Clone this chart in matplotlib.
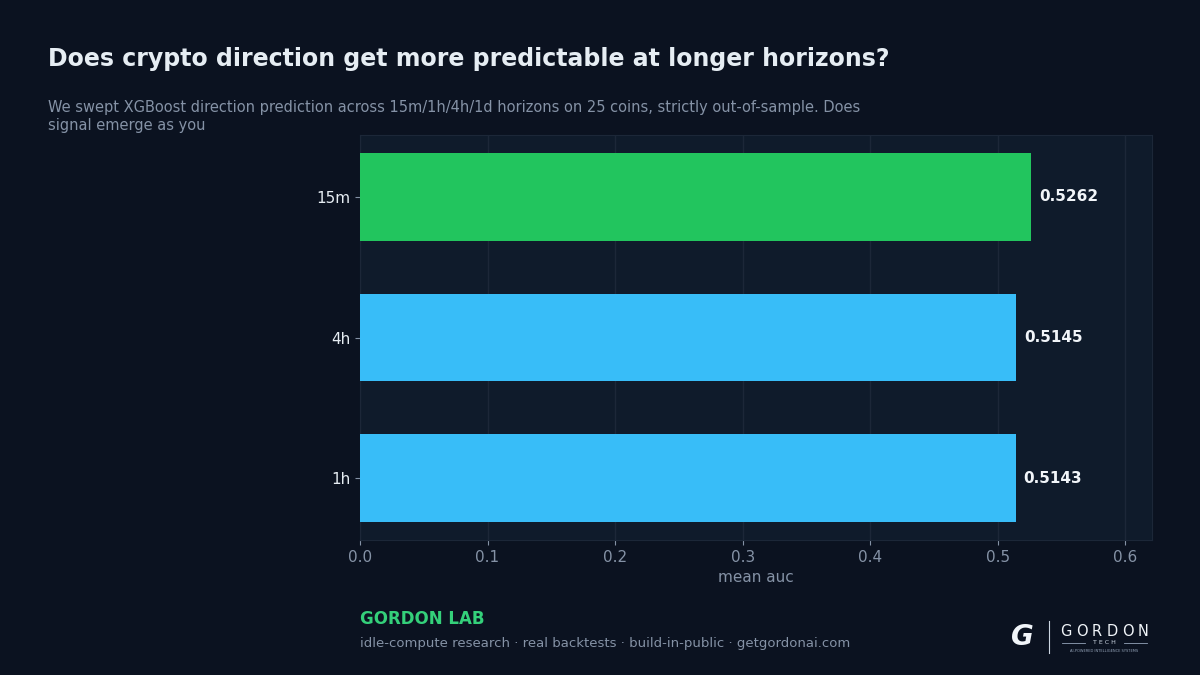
import matplotlib
matplotlib.use("Agg")
import matplotlib.pyplot as plt

# Data
horizons = ["1h", "4h", "15m"]
mean_auc = [0.5143, 0.5145, 0.5262]
bar_colors = ["#38bdf8", "#38bdf8", "#22c55e"]

BG = "#0b1220"
PANEL = "#0f1b2b"
GRID = "#1c2738"
MUTED = "#8592a6"

fig = plt.figure(figsize=(12, 6.75), dpi=100, facecolor=BG)
ax = fig.add_axes([0.30, 0.20, 0.66, 0.60], facecolor=PANEL)

bars = ax.barh(horizons, mean_auc, height=0.62, color=bar_colors, zorder=3)
for bar, v in zip(bars, mean_auc):
    ax.text(v + 0.006, bar.get_y() + bar.get_height() / 2, f"{v:.4f}",
            va="center", ha="left", color="#f1f5f9", fontsize=11,
            fontweight="bold", zorder=4)

ax.set_xlim(0, max(mean_auc) * 1.18)
ax.xaxis.grid(True, color=GRID, linewidth=1, zorder=0)
ax.set_axisbelow(True)
for s in ax.spines.values():
    s.set_color(GRID)
ax.tick_params(axis="x", colors=MUTED, labelsize=11)
ax.tick_params(axis="y", colors=MUTED, labelsize=11, labelcolor="#e6edf3")
ax.set_xlabel("mean auc", color=MUTED, fontsize=11, labelpad=4)

fig.text(0.04, 0.913, "Does crypto direction get more predictable at longer horizons?",
         color="#e6edf3", fontsize=17, fontweight="bold", va="center")
fig.text(0.04, 0.852,
         "We swept XGBoost direction prediction across 15m/1h/4h/1d horizons on 25 coins, strictly out-of-sample. Does\nsignal emerge as you",
         color=MUTED, fontsize=10.5, va="top", linespacing=1.25)

fig.text(0.30, 0.083, "GORDON LAB", color="#34d07a", fontsize=12,
         fontweight="bold", va="center")
fig.text(0.30, 0.046,
         "idle-compute research \u00b7 real backtests \u00b7 build-in-public \u00b7 getgordonai.com",
         color=MUTED, fontsize=9.5, va="center")

# logo
fig.text(0.852, 0.057, "G", color="#f1f5f9", fontsize=20, fontweight="bold",
         va="center", ha="center", style="italic")
fig.add_artist(plt.Line2D([0.874, 0.874], [0.033, 0.08], color="#cbd5e1",
                          linewidth=0.8, transform=fig.transFigure))
for i, ch in enumerate("GORDON"):
    fig.text(0.8885 + i * 0.0128, 0.065, ch, color="#f1f5f9", fontsize=10.5,
             va="center", ha="center")
fig.add_artist(plt.Line2D([0.885, 0.904], [0.048, 0.048], color="#94a3b8",
                          linewidth=0.6, transform=fig.transFigure))
fig.add_artist(plt.Line2D([0.937, 0.956], [0.048, 0.048], color="#94a3b8",
                          linewidth=0.6, transform=fig.transFigure))
fig.text(0.9205, 0.048, "T E C H", color="#cbd5e1", fontsize=4.5,
         va="center", ha="center")
fig.text(0.9205, 0.036, "AI-POWERED INTELLIGENCE SYSTEMS", color="#94a3b8",
         fontsize=2.6, va="center", ha="center")

fig.savefig("out.png", dpi=100, facecolor=BG)
